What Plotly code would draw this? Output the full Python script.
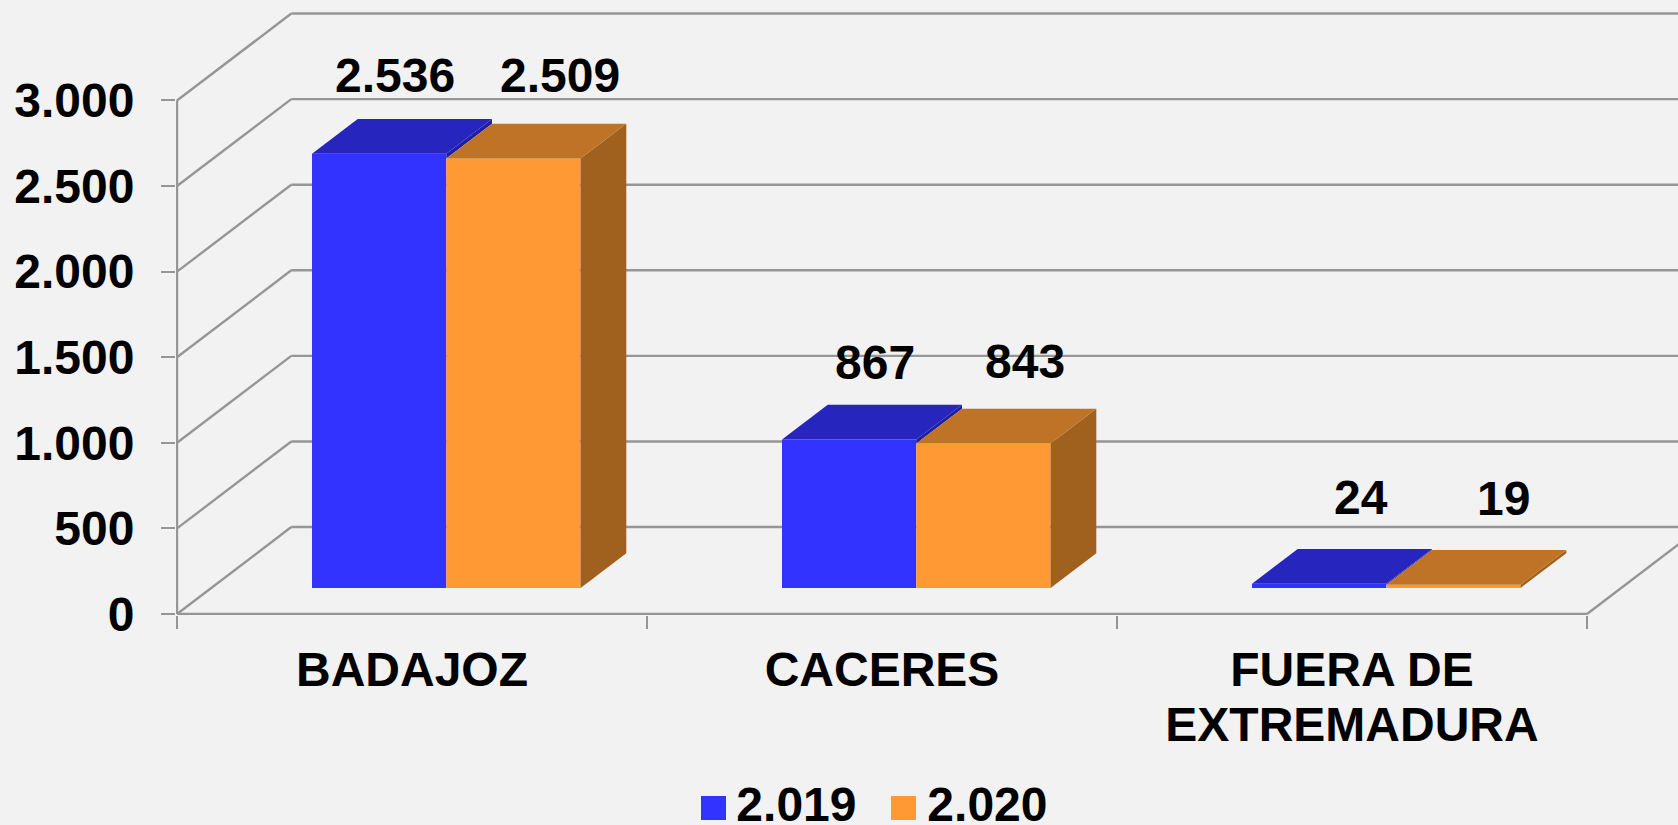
import plotly.graph_objects as go

CATEGORIES = ["BADAJOZ", "CACERES", "FUERA DE<br>EXTREMADURA"]
SERIES_NAMES = ["2.019", "2.020"]
VALUES_2019 = [2536, 867, 24]
VALUES_2020 = [2509, 843, 19]
Y_TICKS = [0, 500, 1000, 1500, 2000, 2500, 3000]

# Colours
BG = "#F2F2F2"
GRID = "#969696"
FRONT = ["#3333FF", "#FF9933"]
TOP = ["#2626BF", "#BF7326"]
SIDE = ["#1F1FA6", "#A0601E"]
TEXT = "#000000"
FONT = "Liberation Sans"

# Oblique projection: one unit of chart depth, in axis units
DX, DY = 0.2432, 508.0
BAR_NEAR, BAR_FAR = 0.3, 0.7     # depth span of the bars
BAR_W = 1 / 3.5                  # gap width 150 %
X_END = 3
PX = 470.0
FS = 48
W, H = 1678, 825


def fmt(v):
    return f"{v:,}".replace(",", ".")


def proj(x, v, d):
    return x + d * DX, v + d * DY


def poly(pts, color):
    xs, ys = zip(*pts, pts[0])
    return go.Scatter(x=list(xs), y=list(ys), mode="lines", fill="toself", fillcolor=color,
                      line=dict(width=0, color=color), hoverinfo="skip", showlegend=False)


fig = go.Figure()
series = [VALUES_2019, VALUES_2020]

# Front faces
for s, vals in enumerate(series):
    fig.add_trace(go.Bar(
        x=[i + 0.5 - BAR_W + s * BAR_W + BAR_W / 2 + BAR_NEAR * DX for i in range(3)],
        y=vals, base=BAR_NEAR * DY, width=BAR_W, name=SERIES_NAMES[s],
        marker=dict(color=FRONT[s], line=dict(width=0)), showlegend=False,
        hovertemplate="%{y}<extra>" + SERIES_NAMES[s] + "</extra>"))

# Sides and tops
for i in range(3):
    left = i + 0.5 - BAR_W
    mid = i + 0.5
    right = i + 0.5 + BAR_W
    vb, vo = VALUES_2019[i], VALUES_2020[i]
    # visible sliver of the blue side, above the orange top
    fig.add_trace(poly([proj(mid, vo, BAR_NEAR), proj(mid, vb, BAR_NEAR),
                        proj(mid, vb, BAR_FAR), proj(mid, vo, BAR_FAR)], SIDE[0]))
    fig.add_trace(poly([proj(left, vb, BAR_NEAR), proj(mid, vb, BAR_NEAR),
                        proj(mid, vb, BAR_FAR), proj(left, vb, BAR_FAR)], TOP[0]))
    fig.add_trace(poly([proj(right, 0, BAR_NEAR), proj(right, vo, BAR_NEAR),
                        proj(right, vo, BAR_FAR), proj(right, 0, BAR_FAR)], SIDE[1]))
    fig.add_trace(poly([proj(mid, vo, BAR_NEAR), proj(right, vo, BAR_NEAR),
                        proj(right, vo, BAR_FAR), proj(mid, vo, BAR_FAR)], TOP[1]))

# Legend entries
for s in range(2):
    fig.add_trace(go.Scatter(x=[None], y=[None], mode="markers", name=SERIES_NAMES[s],
                             marker=dict(symbol="square", size=8, color=FRONT[s],
                                         line=dict(width=0))))


def seg(p, q):
    fig.add_shape(type="line", layer="below", xref="x", yref="y",
                  x0=p[0], y0=p[1], x1=q[0], y1=q[1], line=dict(color=GRID, width=2.4))


# Walls and floor
for v in Y_TICKS:
    seg(proj(0, v, 0), proj(0, v, 1))
    seg(proj(0, v, 1), proj(X_END, v, 1))
seg(proj(0, 0, 0), proj(0, Y_TICKS[-1], 0))
seg(proj(0, 0, 0), proj(X_END, 0, 0))
seg(proj(X_END, 0, 0), proj(X_END, 0, 1))

# Data labels (hand-placed in the original)
LABEL_SHIFT = [[(16, 78), (26, 77), (42, 86)], [(47, 83), (42, 82), (50, 86)]]
BOLD = dict(family=FONT, size=FS, color=TEXT, weight="bold")
for s, vals in enumerate(series):
    for i, v in enumerate(vals):
        cx = i + 0.5 - BAR_W + s * BAR_W + BAR_W / 2 + BAR_NEAR * DX
        dx, dy = LABEL_SHIFT[s][i]
        fig.add_annotation(x=cx, y=v + BAR_NEAR * DY, text=fmt(v), showarrow=False,
                           xshift=dx, yshift=dy, font=BOLD)


def big(label):
    return "<br>".join(f'<span style="font-size:{FS}px">{p}</span>' for p in label.split("<br>"))


# Legend swatches are larger than Plotly's cap on legend markers
for left_px, colour in zip([701, 891], FRONT):
    fig.add_shape(type="rect", xref="paper", yref="paper", line=dict(width=0), fillcolor=colour,
                  x0=(left_px - 176) / (W - 176), x1=(left_px + 25 - 176) / (W - 176),
                  y0=(615 - 820) / 615, y1=(615 - 796) / 615)

fig.update_layout(
    width=W, height=H, paper_bgcolor=BG, plot_bgcolor=BG,
    margin=dict(l=176, r=0, t=0, b=210, autoexpand=False),
    barmode="overlay", hovermode="closest",
    font=BOLD,
    legend=dict(orientation="h", xref="container", yref="container", x=0.415, y=0.0735,
                xanchor="left", yanchor="top", entrywidth=146, entrywidthmode="pixels",
                bgcolor="rgba(0,0,0,0)", font=BOLD),
    xaxis=dict(range=[-1 / PX, 1502 / PX - 1 / PX], showgrid=False, zeroline=False, showline=False,
               tickmode="array", tickvals=[0.5, 1.5, 2.5], ticktext=[big(c) for c in CATEGORIES],
               ticks="", ticklabelstandoff=28,
               tickfont=dict(family=FONT, size=55 / 1.3, color=TEXT, weight="bold"),
               minor=dict(tickmode="array", tickvals=[0, 1, 2, 3], ticks="outside", ticklen=13,
                          tickwidth=2, tickcolor=GRID, showgrid=False)),
    yaxis=dict(range=[-5.84, 3587], showgrid=False, zeroline=False, showline=False,
               tickmode="array", tickvals=Y_TICKS, ticktext=[fmt(v) for v in Y_TICKS],
               ticks="outside", ticklen=14, tickwidth=2, tickcolor=GRID, ticklabelstandoff=17,
               tickfont=BOLD),
)

fig.write_html("out.html", config={"displayModeBar": False},
               post_script="document.body.style.margin='0';document.body.style.overflow='hidden';"
                           "document.body.style.background='#F2F2F2';")
